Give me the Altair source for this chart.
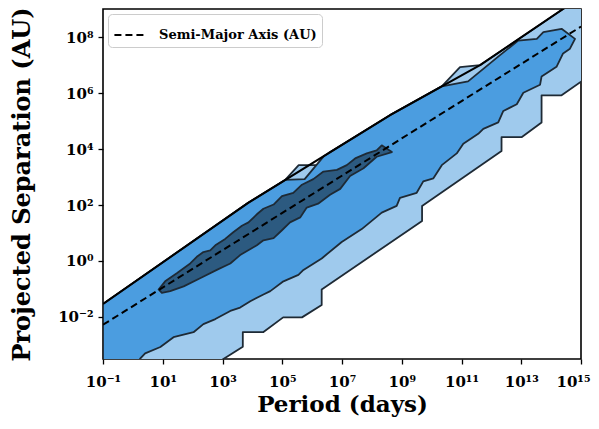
import altair as alt
import pandas as pd

# ---- data (log10 values) ----
# outer (lowest-density) contour region
light_logP = [-1.00, 3.86, 5.10, 5.55, 6.32, 6.55, 8.61, 10.34, 10.95, 11.62, 14.40, 15.3, 15.3,
              15.00, 14.35, 13.68, 13.68, 13.01, 12.34, 12.34, 9.68, 9.68, 6.32, 6.32, 5.66, 5.03,
              4.36, 3.68, 3.68, 3.03, 2.75, -1.00]
light_logA = [-1.54, 2.08, 2.90, 3.43, 3.43, 3.86, 5.22, 6.25, 6.94, 7.01, 9.02, 9.6, 6.42,
              6.42, 5.93, 5.93, 4.96, 4.43, 4.43, 3.94, 1.97, 1.43, -1.02, -1.58, -2.02, -2.02,
              -2.55, -2.55, -3.07, -3.51, -3.70, -3.70]

# middle contour region
mid_logP = [-1.00, 3.86, 5.10, 5.75, 6.40, 8.61, 10.34, 11.22, 12.29, 12.90, 13.52, 13.74, 14.35,
            14.80, 14.63, 14.40, 14.18, 13.68, 13.63, 13.07, 12.85, 12.40, 12.23, 11.73, 11.56,
            11.06, 10.84, 10.34, 10.06, 9.72, 9.50, 8.94, 8.83, 8.33, 7.66, 6.99, 6.32, 5.71,
            5.54, 5.04, 4.60, 4.37, 3.93, 3.59, 3.26, 2.76, 2.36, 2.03, 1.36, 0.92, 0.41, 0.25,
            0.10, -1.00]
mid_logA = [-1.54, 2.08, 2.90, 2.93, 3.76, 5.22, 6.25, 6.43, 7.37, 7.89, 7.95, 8.19, 8.31,
            7.95, 7.60, 7.43, 6.95, 6.60, 6.31, 6.02, 5.61, 5.37, 4.96, 4.73, 4.55,
            4.20, 3.85, 3.43, 2.96, 2.85, 2.44, 2.26, 1.97, 1.73, 1.14, 0.68, 0.09, -0.32,
            -0.50, -0.73, -1.08, -1.20, -1.44, -1.67, -1.79, -2.08, -2.26, -2.55, -2.73, -3.08,
            -3.31, -3.49, -3.70, -3.70]

# inner (highest-density) contour region
dark_logP = [0.86, 1.08, 1.47, 1.70, 1.92, 2.14, 2.36, 2.59, 2.76, 3.09, 3.36, 3.65, 3.87, 4.15,
             4.37, 4.71, 4.99, 5.37, 5.66, 6.04, 6.38, 6.83, 7.16, 7.44, 7.83, 8.16, 8.33, 8.67,
             8.16, 7.72, 7.27, 6.94, 6.60, 6.20, 5.82, 5.60, 5.26, 4.99, 4.71, 4.37, 4.15, 3.59,
             3.26, 2.81, 2.25, 1.70, 1.25, 0.97]
dark_logA = [-1.02, -0.73, -0.44, -0.26, -0.09, 0.15, 0.32, 0.38, 0.56, 0.79, 1.03, 1.26, 1.38,
             1.67, 1.87, 2.02, 2.32, 2.44, 2.73, 2.93, 3.20, 3.26, 3.43, 3.67, 3.85, 3.96, 4.14,
             3.90, 3.73, 3.32, 3.04, 2.58, 2.37, 2.05, 1.91, 1.56, 1.38, 1.10, 0.82, 0.74, 0.56,
             0.21, -0.09, -0.32, -0.62, -0.91, -1.08, -1.14]

# upper limit line
edge_logP = [-1.00, 3.86, 8.61, 11.62, 14.40, 15.0]
edge_logA = [-1.54, 2.08, 5.22, 7.01, 9.02, 9.45]

# semi-major axis (dashed)
sma_period = [0.1, 1e15]
sma_au = [5.2e-3, 2.45e8]
sma_label = "Semi-Major Axis (AU)"

x_ticks = [1e-1, 1e1, 1e3, 1e5, 1e7, 1e9, 1e11, 1e13, 1e15]
y_ticks = [1e-2, 1e0, 1e2, 1e4, 1e6, 1e8]
x_domain = [1e-1, 1e15]
y_domain = [10 ** -3.51, 10 ** 9.02]

FONT = "DejaVu Serif"


def poly_df(lp, la):
    return pd.DataFrame({"P": [10 ** v for v in lp], "A": [10 ** v for v in la],
                         "i": list(range(len(lp)))})


sup = {"-": "⁻", "0": "⁰", "1": "¹", "2": "²", "3": "³", "4": "⁴",
       "5": "⁵", "6": "⁶", "7": "⁷", "8": "⁸", "9": "⁹"}
expr = "toString(round(log(datum.value)/LN10))"
for k, v in sup.items():
    expr = "replace(%s, regexp('%s','g'), '%s')" % (expr, k, v)
label_expr = "'10' + " + expr

xs = alt.Scale(type="log", domain=x_domain, nice=False)
ys = alt.Scale(type="log", domain=y_domain, nice=False)

last_x = "datum.value > 1e14"
x_axis = alt.Axis(values=x_ticks, labelExpr=label_expr, title="Period (days)",
                  grid=False, domain=False, tickSize=5, tickWidth=1.3, tickColor="black",
                  labelFont=FONT, labelFontWeight="bold", labelFontSize=15, labelColor="black",
                  labelPadding=10, labelFlush=False,
                  labelAlign={"condition": {"test": last_x, "value": "right"}, "value": "center"},
                  labelOffset={"condition": {"test": last_x, "value": 9}, "value": 0},
                  titleFont=FONT, titleFontWeight="bold", titleFontSize=23, titleColor="black",
                  titlePadding=4)
y_axis = alt.Axis(values=y_ticks, labelExpr=label_expr, title="Projected Separation (AU)",
                  grid=False, domain=False, tickSize=5, tickWidth=1.3, tickColor="black",
                  labelFont=FONT, labelFontWeight="bold", labelFontSize=15, labelColor="black",
                  labelPadding=5, labelFlush=False,
                  titleFont=FONT, titleFontWeight="bold", titleFontSize=24, titleColor="black",
                  titlePadding=23)

EDGE = "#1e2a35"


def enc_xy():
    return dict(x=alt.X("P:Q", scale=xs, axis=x_axis),
                y=alt.Y("A:Q", scale=ys, axis=y_axis))


def poly_layer(lp, la, fill):
    return alt.Chart(poly_df(lp, la)).mark_line(
        fill=fill, stroke=EDGE, strokeWidth=1.8, interpolate="linear-closed",
        strokeJoin="round", clip=True
    ).encode(order=alt.Order("i:Q"), **enc_xy())


light = poly_layer(light_logP, light_logA, "#9fcaed")
mid = poly_layer(mid_logP, mid_logA, "#4b9de0")
dark = poly_layer(dark_logP, dark_logA, "#2c5a80")

edge = alt.Chart(poly_df(edge_logP, edge_logA)).mark_line(
    color="black", strokeWidth=2, clip=True
).encode(order=alt.Order("i:Q"), **enc_xy())

sma_df = pd.DataFrame({"P": sma_period, "A": sma_au, "label": [sma_label] * 2})
sma = alt.Chart(sma_df).mark_line(color="black", strokeWidth=2, clip=True).encode(
    strokeDash=alt.StrokeDash("label:N", scale=alt.Scale(range=[[7, 4]]),
                              legend=alt.Legend(title=None, orient="top-left", offset=5,
                                                labelFont=FONT, labelFontWeight="bold",
                                                labelFontSize=13, labelColor="black",
                                                labelLimit=400,
                                                symbolType="stroke", symbolStrokeColor="black",
                                                symbolStrokeWidth=2, symbolSize=850,
                                                labelOffset=14,
                                                fillColor="white", strokeColor="#cccccc",
                                                cornerRadius=4, padding=5)),
    **enc_xy()
)

chart = alt.layer(light, mid, dark, edge, sma).properties(
    width=478, height=350,
    autosize=alt.AutoSizeParams(type="none"),
    padding={"left": 95, "top": 1, "right": 10, "bottom": 62},
).configure_view(stroke="black", strokeWidth=1.6)

chart.save("out.html", embed_options={"renderer": "svg", "actions": False})
